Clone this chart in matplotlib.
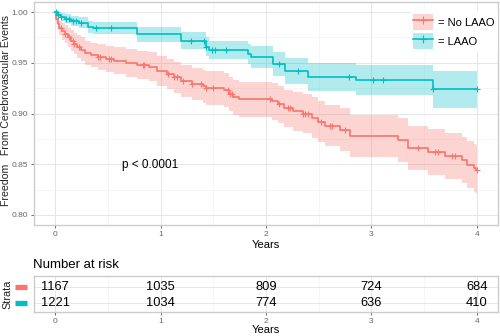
import numpy as np
import matplotlib.pyplot as plt
from matplotlib.patches import Patch
from matplotlib.lines import Line2D

plt.rcParams['font.family'] = ['Liberation Sans', 'DejaVu Sans']

red = '#F8766D'
teal = '#00BFC4'

# No LAAO: step times, survival, lower / upper CI
no_t = [0.00, 0.01, 0.03, 0.04, 0.07, 0.09, 0.12, 0.15, 0.18, 0.21, 0.25, 0.28, 0.34, 0.41,
        0.48, 0.56, 0.67, 0.78, 0.89, 0.97, 1.06, 1.13, 1.19, 1.30, 1.40, 1.43, 1.60, 1.65,
        1.69, 1.74, 2.06, 2.11, 2.17, 2.26, 2.35, 2.44, 2.49, 2.56, 2.70, 2.80, 3.25, 3.35,
        3.54, 3.70, 3.86, 3.91, 3.97, 3.99]
no_s = [1.000, 0.993, 0.988, 0.984, 0.981, 0.978, 0.975, 0.972, 0.969, 0.966, 0.963, 0.960,
        0.958, 0.956, 0.954, 0.952, 0.950, 0.948, 0.946, 0.942, 0.939, 0.936, 0.932, 0.929,
        0.927, 0.925, 0.923, 0.919, 0.916, 0.914, 0.912, 0.909, 0.905, 0.902, 0.900, 0.896,
        0.892, 0.888, 0.884, 0.878, 0.874, 0.866, 0.862, 0.858, 0.854, 0.849, 0.846, 0.844]
no_lo = [1.000, 0.988, 0.982, 0.977, 0.973, 0.970, 0.966, 0.962, 0.959, 0.955, 0.952, 0.948,
         0.946, 0.943, 0.941, 0.939, 0.936, 0.934, 0.932, 0.927, 0.924, 0.920, 0.916, 0.913,
         0.910, 0.908, 0.906, 0.902, 0.899, 0.897, 0.894, 0.891, 0.887, 0.883, 0.881, 0.876,
         0.872, 0.868, 0.863, 0.857, 0.852, 0.844, 0.839, 0.835, 0.831, 0.826, 0.823, 0.821]
no_hi = [1.000, 0.998, 0.994, 0.991, 0.989, 0.987, 0.984, 0.982, 0.979, 0.977, 0.975, 0.972,
         0.970, 0.969, 0.967, 0.966, 0.964, 0.962, 0.961, 0.957, 0.954, 0.951, 0.948, 0.945,
         0.943, 0.942, 0.940, 0.936, 0.933, 0.931, 0.930, 0.927, 0.923, 0.921, 0.919, 0.916,
         0.912, 0.908, 0.905, 0.899, 0.896, 0.888, 0.885, 0.881, 0.877, 0.873, 0.870, 0.868]
no_cens = [0.06, 0.09, 0.13, 0.17, 0.18, 0.23, 0.41, 0.43, 0.51, 0.53, 0.83, 0.84, 1.07, 1.13,
           1.16, 1.21, 1.30, 1.38, 1.43, 1.50, 1.64, 1.66, 1.68, 2.04, 2.12, 2.21, 2.23, 2.35,
           2.37, 2.40, 2.52, 2.61, 2.63, 2.75, 3.44, 3.60, 3.63, 3.76, 3.79, 4.00]

# LAAO
la_t = [0.00, 0.03, 0.06, 0.09, 0.15, 0.23, 0.31, 0.36, 0.78, 1.19, 1.43, 1.46, 1.83, 1.86,
        2.07, 2.18, 2.40, 2.85, 3.58]
la_s = [1.000, 0.997, 0.995, 0.993, 0.991, 0.989, 0.985, 0.984, 0.978, 0.972, 0.966, 0.963,
        0.959, 0.956, 0.949, 0.942, 0.936, 0.933, 0.924]
la_lo = [1.000, 0.994, 0.991, 0.989, 0.986, 0.984, 0.979, 0.978, 0.971, 0.964, 0.957, 0.954,
         0.949, 0.945, 0.937, 0.929, 0.922, 0.918, 0.905]
la_hi = [1.000, 1.000, 0.999, 0.998, 0.996, 0.995, 0.991, 0.990, 0.985, 0.980, 0.975, 0.972,
         0.969, 0.967, 0.961, 0.955, 0.950, 0.948, 0.942]
la_cens = [0.01, 0.03, 0.06, 0.10, 0.13, 0.17, 0.20, 0.25, 0.39, 0.53, 1.29, 1.41, 1.43, 1.49,
           1.52, 1.62, 2.12, 2.30, 2.79, 3.01, 3.11, 3.58, 4.00]

t_end = 4.0
risk_times = [0, 1, 2, 3, 4]
risk_no = [1167, 1035, 809, 724, 684]
risk_la = [1221, 1034, 774, 636, 410]
group_names = ['No LAAO', 'LAAO']

fig = plt.figure(figsize=(5, 3.36), dpi=100)
ax = fig.add_axes([0.068, 0.3304, 0.928, 0.6636])


def draw_curve(t, s, lo, hi, cens, color):
    tt = np.array(t + [t_end])
    ss = np.array(s + [s[-1]])
    ax.fill_between(tt, lo + [lo[-1]], hi + [hi[-1]], step='post', color=color,
                    alpha=0.3, linewidth=0)
    ax.step(tt, ss, where='post', color=color, lw=1.2)
    idx = np.searchsorted(t, cens, side='right') - 1
    ax.plot(cens, np.array(s)[idx], '+', color=color, ms=5, mew=0.8)


draw_curve(no_t, no_s, no_lo, no_hi, no_cens, red)
draw_curve(la_t, la_s, la_lo, la_hi, la_cens, teal)

ax.set_xticks(risk_times)
ax.set_yticks([0.80, 0.85, 0.90, 0.95, 1.00])
ax.set_yticklabels(['0.80', '0.85', '0.90', '0.95', '1.00'])
ax.set_xticks(np.arange(0.5, 4.1, 0.5), minor=True)
ax.set_yticks(np.arange(0.825, 1.0, 0.05), minor=True)
ax.set_xlim(-0.2, 4.2)
ax.set_ylim(0.79, 1.01)
ax.grid(which='major', color='#E6E6E6', lw=0.7)
ax.grid(which='minor', color='#F0F0F0', lw=0.4)
ax.set_axisbelow(True)
ax.tick_params(which='minor', length=0)
ax.tick_params(which='major', length=2.5, width=0.6, color='#555555',
               labelsize=6, labelcolor='#666666', pad=1.5)
for sp in ax.spines.values():
    sp.set_color('#CCCCCC')
    sp.set_linewidth(1.0)
ax.set_xlabel('Years', fontsize=8, labelpad=2)
fig.text(6 / 500, 1 - 111 / 336, 'Freedom   From Cerebrovascular Events', rotation=90,
         ha='center', va='center', fontsize=7.6, color='#222222')

ax.text(0.9, 0.849, 'p < 0.0001', ha='center', va='center', fontsize=8.5)

handles = [(Patch(facecolor=red, alpha=0.3, lw=0),
            Line2D([], [], color=red, lw=1.2, marker='+', ms=6, mew=0.8)),
           (Patch(facecolor=teal, alpha=0.3, lw=0),
            Line2D([], [], color=teal, lw=1.2, marker='+', ms=6, mew=0.8))]
leg = ax.legend(handles, ['= ' + g for g in group_names], loc='upper right',
                bbox_to_anchor=(1.012, 0.985), fontsize=8, handlelength=1.75,
                handleheight=1.8, labelspacing=0.3, handletextpad=0.5,
                borderpad=0.3, frameon=True, fancybox=False)
leg.get_frame().set_facecolor('white')
leg.get_frame().set_edgecolor('none')
leg.get_frame().set_alpha(1)

# risk table
ax2 = fig.add_axes([0.068, 0.0714, 0.928, 0.1072])
for x, n1, n2 in zip(risk_times, risk_no, risk_la):
    ax2.text(x, 2, str(n1), ha='center', va='center', fontsize=9.3)
    ax2.text(x, 1, str(n2), ha='center', va='center', fontsize=9.3)
ax2.set_xticks(risk_times)
ax2.set_xticks(np.arange(0.5, 4.1, 0.5), minor=True)
ax2.set_yticks([1, 2])
ax2.set_yticklabels([])
ax2.set_xlim(-0.2, 4.2)
ax2.set_ylim(0.42, 2.67)
ax2.grid(which='major', color='#E6E6E6', lw=0.7)
ax2.grid(which='minor', axis='x', color='#F0F0F0', lw=0.4)
ax2.set_axisbelow(True)
ax2.tick_params(which='minor', length=0)
ax2.tick_params(axis='y', length=0)
ax2.tick_params(axis='x', which='major', length=2.5, width=0.6, color='#555555',
                labelsize=6, labelcolor='#666666', pad=1.5)
for sp in ax2.spines.values():
    sp.set_color('#CCCCCC')
    sp.set_linewidth(1.0)
ax2.set_xlabel('Years', fontsize=8, labelpad=0)
trans = ax2.get_yaxis_transform()
for yv, c in zip([2, 1], [red, teal]):
    ax2.add_line(Line2D([-0.041, -0.015], [yv, yv], color=c, lw=3.8, transform=trans,
                        clip_on=False, solid_capstyle='butt'))
fig.text(7 / 500, 1 - 294 / 336, 'Strata', rotation=90, ha='center', va='center',
         fontsize=7.8, color='#222222')
fig.text(33 / 500, 1 - 265 / 336, 'Number at risk', ha='left', va='center', fontsize=9.5)

fig.savefig('out.png', dpi=100)
